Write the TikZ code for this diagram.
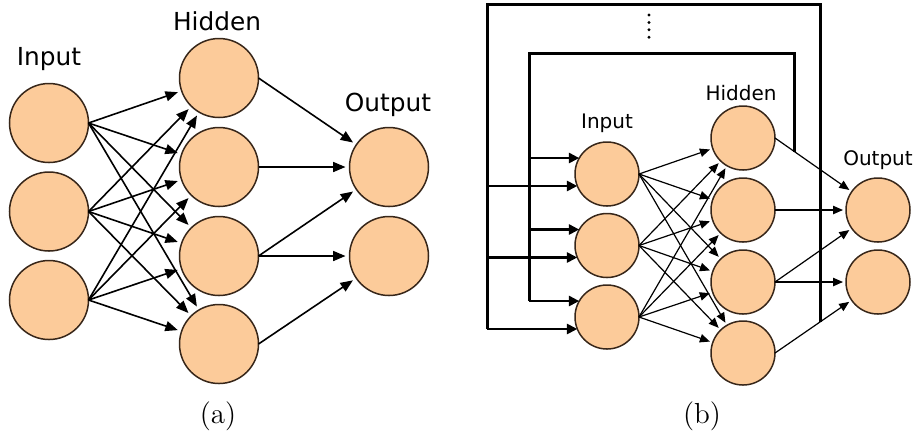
\documentclass[tikz,border=0pt]{standalone}
\usepackage{fontspec}
\newfontfamily\labelfont{DejaVu Sans}
\usetikzlibrary{positioning,arrows.meta,calc}
\definecolor{nfill}{RGB}{252,203,154}
\definecolor{nline}{RGB}{55,38,25}
\tikzstyle{neuron} = [circle, draw=nline, fill=nfill, line width=0.75pt,
        inner sep=0pt, outer sep=0pt, minimum size=39.5pt]
\tikzstyle{sneuron} = [neuron, minimum size=32pt]
\tikzstyle{wire} = [line width=0.8pt, -{Triangle[length=6.2pt,width=5pt]}, shorten >=2pt]
\tikzstyle{swire} = [line width=0.6pt, -{Triangle[length=5pt,width=4.2pt]}, shorten >=1.5pt]
\tikzstyle{loopline} = [line width=1.5pt]
\tikzstyle{loopwire} = [line width=1.3pt, -{Triangle[length=5.2pt,width=5pt]}]
\tikzstyle{layerlabel} = [font=\labelfont\fontsize{12.4}{14}\selectfont]
\tikzstyle{slayerlabel} = [font=\labelfont\fontsize{10}{12}\selectfont]
\tikzstyle{subcap} = [font=\fontsize{14.5}{16}\selectfont]

\begin{document}
\begin{tikzpicture}[x=0.5pt, y=-0.5pt]
\useasboundingbox (0,0) rectangle (916,447);

% (a) feed-forward net
\foreach \n/\y in {1/123, 2/211.5, 3/300}
    \node (ai\n) [neuron] at (49,\y) {};
\foreach \n/\y in {1/78, 2/167, 3/256, 4/344}
    \node (ah\n) [neuron] at (219,\y) {};
\foreach \n/\y in {1/167, 2/256}
    \node (ao\n) [neuron] at (389,\y) {};
\node (ainput) [layerlabel] at (49,59) {Input};
\node (ahidden) [layerlabel] at (217,21) {Hidden};
\node (aoutput) [layerlabel] at (388,105) {Output};

\foreach \i in {1,2,3}
    \foreach \j in {1,...,4}
        \draw[wire] (ai\i.east) -- (ah\j);
\foreach \h/\o in {1/1, 2/1, 3/1, 3/2, 4/2}
    \draw[wire] (ah\h.east) -- (ao\o);

\node (capa) [subcap] at (218,416) {(a)};

% (b) recurrent net
\foreach \n/\y in {1/174, 2/245.5, 3/317}
    \node (bi\n) [sneuron] at (607,\y) {};
\foreach \n/\y in {1/138, 2/210, 3/282, 4/353}
    \node (bh\n) [sneuron] at (743,\y) {};
\foreach \n/\y in {1/210, 2/282}
    \node (bo\n) [sneuron] at (878,\y) {};
\node (binput) [slayerlabel] at (607,123) {Input};
\node (bhidden) [slayerlabel] at (741,93) {Hidden};
\node (boutput) [slayerlabel] at (878,160) {Output};

\foreach \i in {1,2,3}
    \foreach \j in {1,...,4}
        \draw[swire] (bi\i.east) -- (bh\j);
\draw[swire] (bh1.east) -- coordinate[pos=0.26] (fbin) (bo1);
\draw[swire] (bh2.east) -- (bo1);
\draw[swire] (bh3.east) -- (bo1);
\draw[swire] (bh3.east) -- (bo2);
\draw[swire] (bh4.east) -- coordinate[pos=0.59] (fbout) (bo2);

% feedback loops
\coordinate (inleft) at (529,53);
\coordinate (outleft) at (487,4);
\draw[loopline] (fbin) -- (fbin |- inleft) -- (inleft) -- (inleft |- bi3.150);
\foreach \n in {1,2,3}
    \draw[loopwire] (inleft |- bi\n.150) -- (bi\n.150);
\draw[loopline] (fbout) -- (fbout |- outleft) -- (outleft) -- (outleft |- bi3.202);
\foreach \n in {1,2,3}
    \draw[loopwire] (outleft |- bi\n.202) -- (bi\n.202);

\foreach \k in {0,...,3}
    \fill (649,15+\k*7.4) circle (0.8pt);

\node (capb) [subcap] at (702,416) {(b)};
\end{tikzpicture}
\end{document}
